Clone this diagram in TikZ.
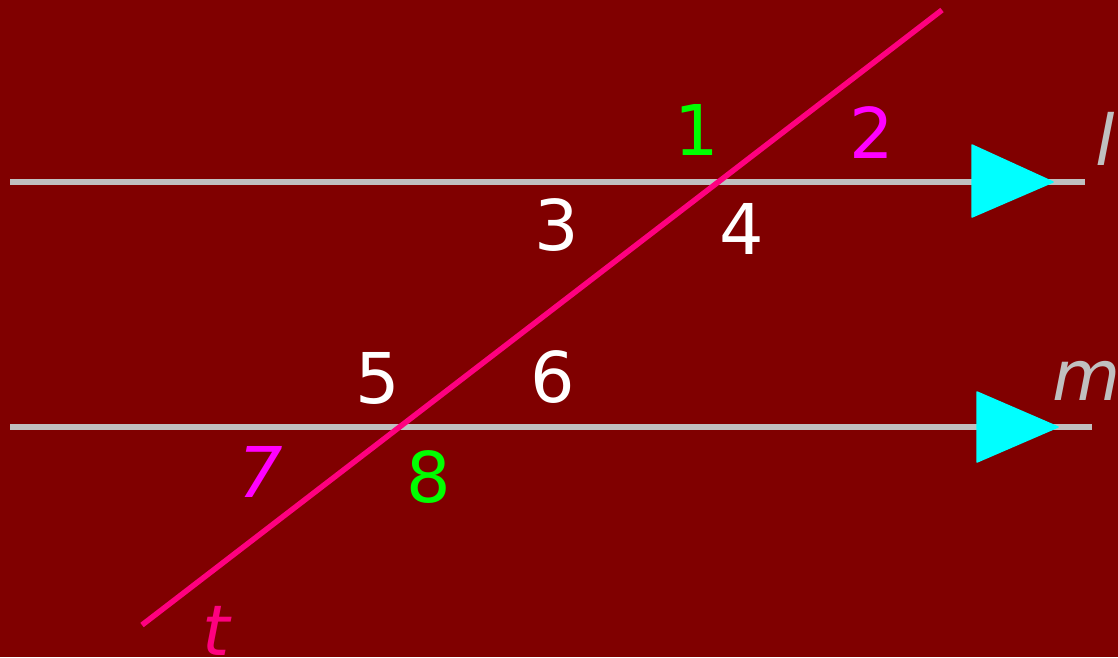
\documentclass[tikz,border=0pt]{standalone}
\usepackage{fontspec}
\setmainfont{DejaVu Sans}
\definecolor{bgred}{RGB}{128,0,0}
\definecolor{linegray}{RGB}{192,192,192}
\definecolor{tpink}{RGB}{255,0,128}
\definecolor{mkcyan}{RGB}{0,255,255}
\definecolor{numgreen}{RGB}{0,255,0}
\definecolor{nummag}{RGB}{255,0,255}
\begin{document}
\begin{tikzpicture}[x=1pt,y=-1pt,line width=5.5pt,every node/.style={font=\fontsize{70}{70}\selectfont,inner sep=0pt}]
\fill[bgred] (0,0) rectangle (1118,657);
\useasboundingbox (0,0) rectangle (1118,657);
\coordinate (L1) at (10,182);
\coordinate (L2) at (1085,182);
\coordinate (M1) at (10,427);
\coordinate (M2) at (1092,427);
\coordinate (T1) at (142,625);
\coordinate (T2) at (942,10);
\draw[linegray] (L1) -- (L2);
\draw[linegray] (M1) -- (M2);
\begin{scope}[line width=1.5pt,line join=round]
\filldraw[mkcyan] (972,145) -- (972,217) -- (1053,182) -- cycle;
\filldraw[mkcyan] (977,392) -- (977,462) -- (1058,427) -- cycle;
\end{scope}
\draw[tpink] (T1) -- (T2);
\node[numgreen] (n1) at (697,130) {1};
\node[nummag] (n2) at (872,133) {2};
\node[white] (n3) at (557,225) {3};
\node[white] (n4) at (742,229) {4};
\node[white] (n5) at (378,378) {5};
\node[white] (n6) at (553,377) {6};
\node[nummag,font=\fontsize{70}{70}\selectfont\itshape] (n7) at (261,472) {7};
\node[numgreen] (n8) at (429,477) {8};
\node[linegray,font=\fontsize{70}{70}\selectfont\itshape] (l) at (1105,139) {l};
\node[linegray,font=\fontsize{70}{70}\selectfont\itshape,anchor=base west] (m) at (1050,400) {m};
\node[tpink,font=\fontsize{70}{70}\selectfont\itshape,anchor=base west] (t) at (200,655) {t};
\end{tikzpicture}
\end{document}
